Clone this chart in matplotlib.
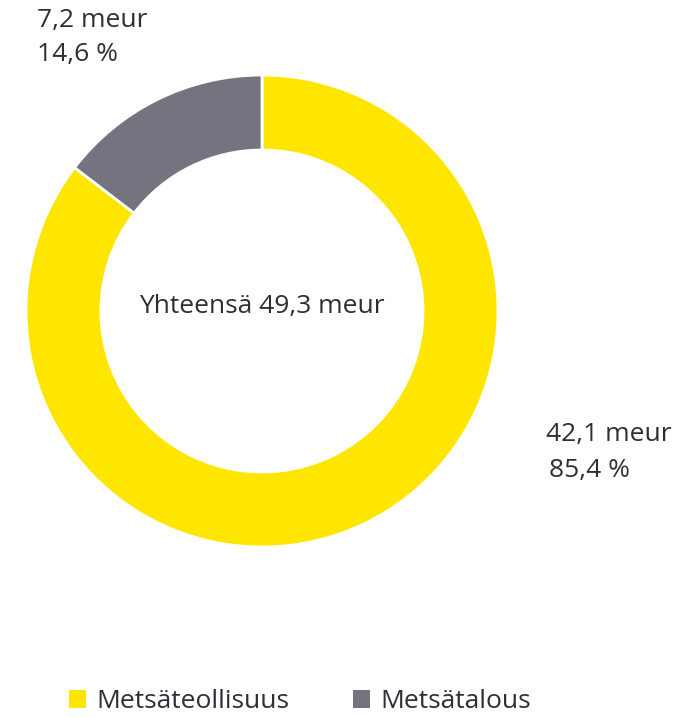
import matplotlib.pyplot as plt
from matplotlib.patches import Patch

# Data
labels = ["Metsäteollisuus", "Metsätalous"]
values = [42.1, 7.2]
value_labels = ["42,1 meur", "7,2 meur"]
share_labels = ["85,4 %", "14,6 %"]
total_label = "Yhteensä 49,3 meur"
colors = ["#FFE600", "#747480"]
text_color = "#2E2E38"

plt.rcParams['font.family'] = ['Open Sans', 'DejaVu Sans']

W, H = 685, 717
fig = plt.figure(figsize=(W / 100, H / 100), dpi=100)
ax = fig.add_axes([0, 0, 1, 1])

cx, cy = 262, H - 311
ax.pie(values, colors=colors, startangle=90, counterclock=False,
       center=(cx, cy), radius=236, frame=True,
       wedgeprops=dict(width=75, edgecolor='white', linewidth=2))
ax.set_xlim(0, W)
ax.set_ylim(0, H)
ax.set_aspect('equal')
ax.axis('off')

fs = 19
# keskellä yhteensä
ax.text(cx, H - 306, total_label, ha='center', va='center', fontsize=fs, color=text_color)

# sektorien arvot
ax.text(37, H - 20, value_labels[1], ha='left', va='center', fontsize=fs, color=text_color)
ax.text(37, H - 55, share_labels[1], ha='left', va='center', fontsize=fs, color=text_color)
ax.text(546, H - 435, value_labels[0], ha='left', va='center', fontsize=fs, color=text_color)
ax.text(549, H - 471, share_labels[0], ha='left', va='center', fontsize=fs, color=text_color)

handles = [Patch(facecolor=c, edgecolor='none') for c in colors]
fig.legend(handles, labels, loc='center', bbox_to_anchor=(300 / W, 1 - 702 / H),
           ncol=2, frameon=False, fontsize=19, handlelength=0.65, handleheight=0.65,
           handletextpad=0.4, columnspacing=2.4, labelcolor=text_color,
           borderpad=0)

fig.savefig("out.png", dpi=100)
